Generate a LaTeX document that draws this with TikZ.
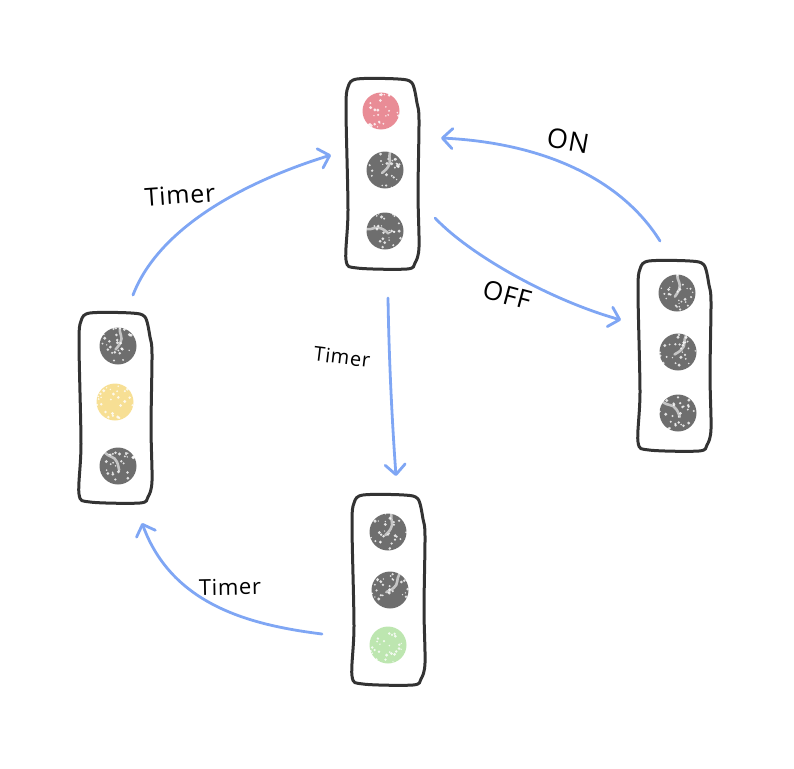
\documentclass[tikz,border=0pt]{standalone}
\usepackage{fontspec}
\setmainfont[LetterSpace=3]{Open Sans}
\usetikzlibrary{arrows.meta,calc}
\definecolor{ink}{HTML}{333333}
\definecolor{flowblue}{HTML}{7FA6F4}
\definecolor{lampoff}{HTML}{6E6E6E}
\definecolor{lampred}{HTML}{E98C96}
\definecolor{lampyellow}{HTML}{F7DF94}
\definecolor{lampgreen}{HTML}{BDE6B0}
\tikzset{
  housing/.style={minimum width=72pt,minimum height=190pt,inner sep=0pt},
  outline/.style={draw=ink,line width=3pt,line join=round},
  lamp/.style={circle,minimum size=37pt,inner sep=0pt,fill=#1},
  crack/.style={draw=white,line width=2.6pt,line cap=round,opacity=.6},
  flow/.style={draw=flowblue,line width=2.8pt,line cap=round,line join=round,
    -{Straight Barb[length=10pt,width=20pt,round]}},
  hand/.style={text=black,inner sep=0pt}
}
\newcommand{\casing}[3]{%
  \node[housing] (#1) at (#2,#3) {};
  \begin{scope}[shift={(#1.center)}]
    \draw[outline] plot[smooth cycle,tension=.5] coordinates {
      (-25,-95) (16,-95) (30,-91) (35,-71) (37,-54) (36,19) (37,73) (33,89)
      (25,95) (-25,94) (-36,86) (-34,36) (-36,-64) (-34,-87)};
  \end{scope}}
\newcommand{\specks}[1]{%
  \foreach \k in {1,...,26}{%
    \pgfmathsetmacro\aa{360*rnd}\pgfmathsetmacro\rr{18.5*sqrt(rnd)}\pgfmathsetmacro\ss{.7+1.0*rnd}%
    \fill[white,opacity=.8] (#1) ++(\aa:\rr pt) circle (\ss pt);}}
\newcommand{\lampat}[4]{%
  \node[lamp=#4] (#1) at (#2,#3) {};\specks{#1}}
\newcommand{\crackat}[2]{%
  \begin{scope}[shift={(#1.center)},rotate=#2]
    \draw[crack] (5,-18) .. controls (3,-12) and (7,-8) .. (3,-3) .. controls (1,0) and (-2,2) .. (-3,3);
  \end{scope}}
\begin{document}
\begin{tikzpicture}[x=1pt,y=-1pt]
\useasboundingbox (0,0) rectangle (794,768);
\pgfmathsetseed{7}
% housings
\casing{topbox}{382}{174}
\casing{leftbox}{115}{408}
\casing{rightbox}{674}{356}
\casing{botbox}{388}{590}
% lamps
\lampat{t1}{381}{111}{lampred}
\lampat{t2}{385}{170}{lampoff}\crackat{t2}{0}
\lampat{t3}{385}{231}{lampoff}\crackat{t3}{100}
\lampat{l1}{118}{346}{lampoff}\crackat{l1}{10}
\lampat{l2}{115}{402}{lampyellow}
\lampat{l3}{118}{466}{lampoff}\crackat{l3}{60}
\lampat{r1}{677}{293}{lampoff}\crackat{r1}{15}
\lampat{r2}{678}{352}{lampoff}\crackat{r2}{-10}
\lampat{r3}{678}{413}{lampoff}\crackat{r3}{70}
\lampat{b1}{388}{532}{lampoff}\crackat{b1}{5}
\lampat{b2}{390}{590}{lampoff}\crackat{b2}{-15}
\lampat{b3}{388}{645}{lampgreen}
% connector ends
\coordinate (leftout) at (133,295);
\coordinate (topinl) at (331,155);
\coordinate (rightout) at (660,241);
\coordinate (topinr) at (441,138);
\coordinate (topoutr) at (435,218);
\coordinate (rightin) at (621,320);
\coordinate (topoutb) at (388,298);
\coordinate (botin) at (396,476);
\coordinate (botout) at (322,634);
\coordinate (leftin) at (142,523);
% connectors
\draw[flow] (leftout) .. controls (160,225) and (250,180) .. (topinl);
\draw[flow] (rightout) .. controls (622,180) and (545,143) .. (topinr);
\draw[flow] (topoutr) .. controls (470,255) and (550,300) .. (rightin);
\draw[flow] (topoutb) .. controls (389,360) and (392,420) .. (botin);
\draw[flow] (botout) .. controls (250,625) and (172,605) .. (leftin);
% labels
\node[hand,rotate=4,font=\fontsize{25}{28}\selectfont] (lab1) at (180,195) {Timer};
\node[hand,rotate=-10,font=\fontsize{27}{30}\selectfont] (lab2) at (568,141) {ON};
\node[hand,rotate=-15,font=\fontsize{26}{29}\selectfont] (lab3) at (507,295) {OFF};
\node[hand,rotate=-7,font=\fontsize{20}{22}\selectfont] (lab4) at (342,357) {Timer};
\node[hand,rotate=1,font=\fontsize{22}{25}\selectfont] (lab5) at (230,587) {Timer};
\end{tikzpicture}
\end{document}
